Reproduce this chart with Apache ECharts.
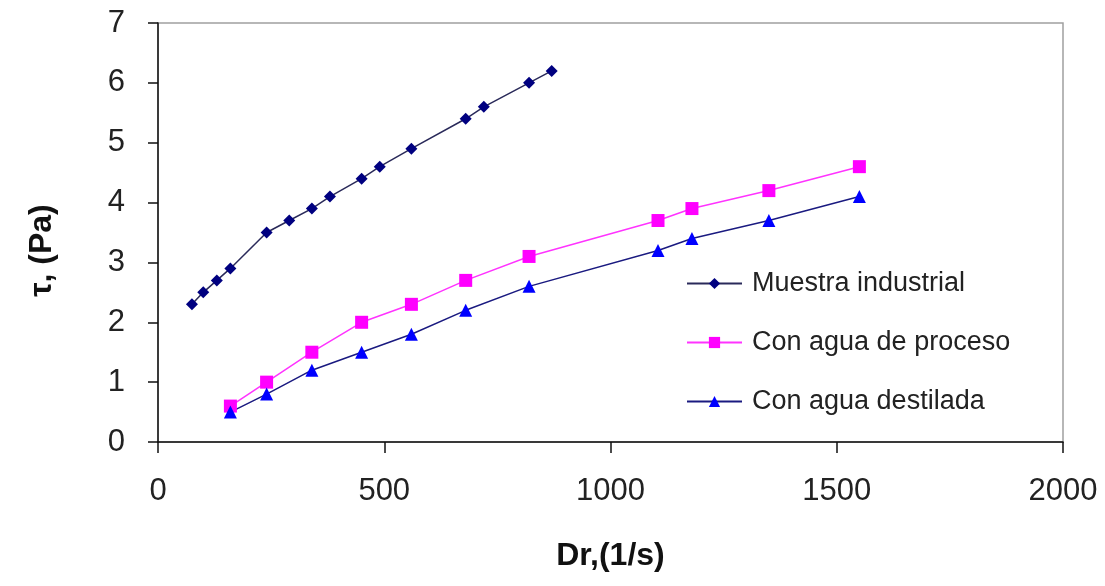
<!DOCTYPE html>
<html>
<head>
<meta charset="utf-8">
<script src="https://cdn.jsdelivr.net/npm/echarts@6/dist/echarts.min.js"></script>
<style>html,body{margin:0;padding:0;background:#fff}#c{width:1105px;height:586px}</style>
</head>
<body>
<div id="c"></div>
<script>
const seriesNames = ['Muestra industrial', 'Con agua de proceso', 'Con agua destilada'];
const industrialX = [75, 100, 130, 160, 240, 290, 340, 380, 450, 490, 560, 680, 720, 820, 870];
const industrialY = [2.3, 2.5, 2.7, 2.9, 3.5, 3.7, 3.9, 4.1, 4.4, 4.6, 4.9, 5.4, 5.6, 6.0, 6.2];
const waterX = [160, 240, 340, 450, 560, 680, 820, 1105, 1180, 1350, 1550];
const procesoY = [0.6, 1.0, 1.5, 2.0, 2.3, 2.7, 3.1, 3.7, 3.9, 4.2, 4.6];
const destiladaY = [0.5, 0.8, 1.2, 1.5, 1.8, 2.2, 2.6, 3.2, 3.4, 3.7, 4.1];
const xAxisTitle = 'Dr,(1/s)';
const yAxisTitle = 'τ, (Pa)';

const pair = (xs, ys) => xs.map((x, i) => [x, ys[i]]);
const FONT = '"Liberation Sans", Arial, sans-serif';

const chart = echarts.init(document.getElementById('c'), null, {renderer: 'canvas'});
chart.setOption({
  animation: false,
  backgroundColor: '#fff',
  grid: {left: 158, right: 42, top: 23, bottom: 144, show: true, borderColor: '#a0a0a0', borderWidth: 1.5, backgroundColor: 'transparent'},
  legend: {
    orient: 'vertical', left: 681, top: 265, itemWidth: 55, itemHeight: 14, itemGap: 32,
    textStyle: {fontFamily: FONT, fontSize: 27, color: '#222', padding: [0, 0, 0, 5]},
    data: seriesNames
  },
  xAxis: {
    type: 'value', min: 0, max: 2000, interval: 500,
    name: xAxisTitle, nameLocation: 'middle', nameGap: 98,
    nameTextStyle: {fontFamily: FONT, fontSize: 32, fontWeight: 'bold', color: '#111'},
    axisLine: {show: true, onZero: false, lineStyle: {color: '#111', width: 1.5}},
    axisTick: {show: true, length: 11, lineStyle: {color: '#111', width: 1.5}},
    axisLabel: {fontFamily: FONT, fontSize: 31, color: '#222', margin: 34, formatter: v => String(v)},
    splitLine: {show: false}
  },
  yAxis: {
    type: 'value', min: 0, max: 7, interval: 1,
    name: yAxisTitle, nameLocation: 'middle', nameGap: 100, nameRotate: 90,
    nameTextStyle: {fontFamily: FONT, fontSize: 32, fontWeight: 'bold', color: '#111', padding: [0, 36, 0, 0]},
    axisLine: {show: true, onZero: false, lineStyle: {color: '#111', width: 1.5}},
    axisTick: {show: true, length: 10, lineStyle: {color: '#111', width: 1.5}},
    axisLabel: {fontFamily: FONT, fontSize: 31, color: '#222', margin: 33},
    splitLine: {show: false}
  },
  series: [
    {
      name: seriesNames[0], type: 'line', data: pair(industrialX, industrialY),
      symbol: 'diamond', symbolSize: 12,
      lineStyle: {color: '#2a2a5a', width: 1.5},
      itemStyle: {color: '#000080'}
    },
    {
      name: seriesNames[1], type: 'line', data: pair(waterX, procesoY),
      symbol: 'rect', symbolSize: 13,
      lineStyle: {color: '#ff33ff', width: 1.5},
      itemStyle: {color: '#ff00ff'}
    },
    {
      name: seriesNames[2], type: 'line', data: pair(waterX, destiladaY),
      symbol: 'triangle', symbolSize: 13,
      lineStyle: {color: '#1a1a80', width: 1.5},
      itemStyle: {color: '#0000ff'}
    }
  ]
});
</script>
</body>
</html>
